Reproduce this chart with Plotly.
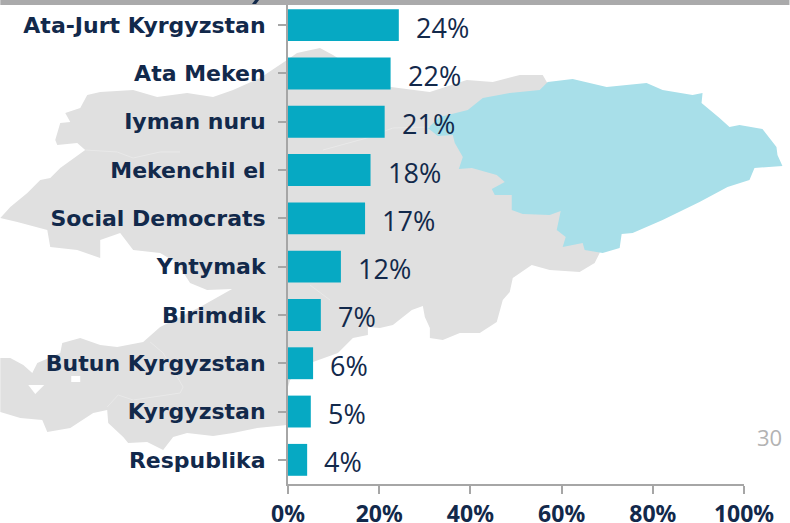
import plotly.graph_objects as go

parties = ["Ata-Jurt Kyrgyzstan", "Ata Meken", "Iyman nuru", "Mekenchil el", "Social Democrats",
           "Yntymak", "Birimdik", "Butun Kyrgyzstan", "Kyrgyzstan", "Respublika"]
bar_values = [24.3, 22.5, 21.2, 18.1, 16.9, 11.6, 7.2, 5.5, 5.0, 4.2]
bar_labels = ["24%", "22%", "21%", "18%", "17%", "12%", "7%", "6%", "5%", "4%"]
x_ticks = [0, 20, 40, 60, 80, 100]
x_tick_labels = ["0%", "20%", "40%", "60%", "80%", "100%"]

# Background map outlines (decorative), in page pixels
map_grey = [(0,218),(10,207),(27,193),(40,180),(50,178),(60,168),(85,150),(77,143),(57,145),(55,140),(60,123),(70,122),
            (65,113),(80,108),(87,95),(100,92),(133,90),(157,97),
            (187,93),(213,97),(233,90),(260,78),(287,60),(297,53),(320,48),(333,55),(360,72),(391,87),(430,92),(467,80),
            (493,82),(520,75),(543,75),(547,82),(600,150),(600,253),(595,263),(580,272),(550,270),(532,265),(513,278),
            (510,292),(503,300),(497,322),(480,333),(460,333),(443,340),(430,338),(430,328),(425,317),(423,306),(412,310),
            (393,325),(380,328),(368,327),(368,335),(353,338),(338,353),(313,362),(290,380),(288,387),(287,425),(257,428),
            (233,433),(213,436),(187,433),(173,437),(163,450),(147,442),(128,443),(123,437),(108,423),(107,410),(93,413),
            (70,428),(47,432),(42,420),(20,418),(0,412),(0,358),(10,358),(23,365),(32,373),(37,363),(60,353),(62,343),
            (80,338),(100,345),(117,347),(143,342),(160,327),(200,307),(232,289),(207,290),(190,283),(177,263),(160,253),
            (133,250),(120,233),(100,240),(100,258),(77,250),(50,247),(47,230),(17,222)]
map_blue = [(428,128),(440,117),(468,110),(483,98),(510,93),(540,90),(548,82),(573,79),(607,87),(647,83),(663,90),
            (693,95),(703,93),(702,103),(720,118),(730,127),(740,125),(763,129),(777,147),(778,155),(783,166),(755,168),
            (750,180),(728,187),(700,202),(663,220),(633,233),(622,234),(620,248),(603,253),(585,250),(583,243),(563,247),
            (566,237),(557,230),(561,211),(550,215),(523,214),(512,210),(512,195),(495,195),(492,189),(505,182),(497,175),
            (472,168),(459,169),(463,157),(455,143),(453,135),(438,136)]
map_holes = [[(28,385),(44,385),(35,394)], [(71,376),(80,376),(80,382),(71,382)]]
map_borders = [[(85,150),(117,152),(133,158),(160,152),(180,152)],
               [(323,150),(367,138),(393,128),(430,127)],
               [(107,407),(118,395),(133,400),(180,393),(183,387),(163,353),(150,342)],
               [(310,285),(330,300)]]
title_descender = [(252,4),(256,4),(259,0),(255,0)]

L, R, T, B = 288.0, 744.5, 1.0, 484.0


def path(pts, close=True):
    px = [(x - L) / (R - L) for x, _ in pts]
    py = [(B - y) / (B - T) for _, y in pts]
    return "M" + " L".join(f"{a:.4f},{b:.4f}" for a, b in zip(px, py)) + (" Z" if close else "")


def rect(x0, y0, x1, y1):
    return [(x0, y0), (x1, y0), (x1, y1), (x0, y1)]


DARK = "#12294b"
shapes = [dict(type="path", xref="paper", yref="paper", path=path(map_grey), fillcolor="#e0e0e0",
               line=dict(width=0), layer="below"),
          dict(type="path", xref="paper", yref="paper", path=path(map_blue), fillcolor="#a8dfe9",
               line=dict(width=0), layer="below")]
for h in map_holes:
    shapes.append(dict(type="path", xref="paper", yref="paper", path=path(h), fillcolor="white",
                       line=dict(width=0), layer="below"))
for b in map_borders:
    shapes.append(dict(type="path", xref="paper", yref="paper", path=path(b, False),
                       line=dict(width=1, color="#e9e9e9"), layer="below"))
shapes.append(dict(type="path", xref="paper", yref="paper", path=path(rect(0, -2, 790, 5)), fillcolor="#aaaaab",
                   line=dict(width=0), layer="above"))
shapes.append(dict(type="path", xref="paper", yref="paper", path=path(title_descender), fillcolor=DARK,
                   line=dict(width=0), layer="above"))

annotations = [dict(x=v, y=p, text=t, xref="x", yref="y", xanchor="left", yanchor="middle", xshift=15, yshift=-2,
                    showarrow=False, font=dict(family="Open Sans", size=27, color=DARK))
               for v, p, t in zip(bar_values, parties, bar_labels)]
annotations.append(dict(x=(770 - L) / (R - L), y=(B - 437) / (B - T), xref="paper", yref="paper", text="30",
                        xanchor="center", yanchor="middle", showarrow=False,
                        font=dict(family="Open Sans", size=22, color="#b3b3b3")))

fig = go.Figure(go.Bar(y=parties, x=bar_values, orientation="h", marker=dict(color="#06a9c3", line=dict(width=0)),
                       width=0.66, hoverinfo="skip"))
fig.update_layout(
    width=790, height=523, autosize=False,
    margin=dict(l=L, r=790 - R, t=T, b=523 - B, pad=0),
    paper_bgcolor="white", plot_bgcolor="rgba(0,0,0,0)",
    showlegend=False, shapes=shapes, annotations=annotations,
)
fig.update_xaxes(range=[0, 100], tickvals=x_ticks, ticktext=x_tick_labels, showgrid=False, zeroline=False,
                 automargin=False, showline=True, linecolor="#a6a6a6", linewidth=2, ticks="outside", ticklen=8,
                 tickwidth=2, tickcolor="#a6a6a6",
                 tickfont=dict(family="Noto Sans", size=23, color=DARK, weight="bold"),
                 tickangle=0, ticklabelstandoff=0)
fig.update_yaxes(type="category", categoryorder="array", categoryarray=parties[::-1], showgrid=False, zeroline=False,
                 automargin=False, showline=True, linecolor="#a6a6a6", linewidth=2, ticks="outside", ticklen=8,
                 tickwidth=2, tickcolor="#a6a6a6",
                 tickfont=dict(family="DejaVu Sans", size=22, color=DARK, weight="bold"),
                 ticklabelstandoff=8)
fig.write_html("out.html", config=dict(displayModeBar=False),
               post_script="document.body.style.margin='0';document.body.style.overflow='hidden';")
